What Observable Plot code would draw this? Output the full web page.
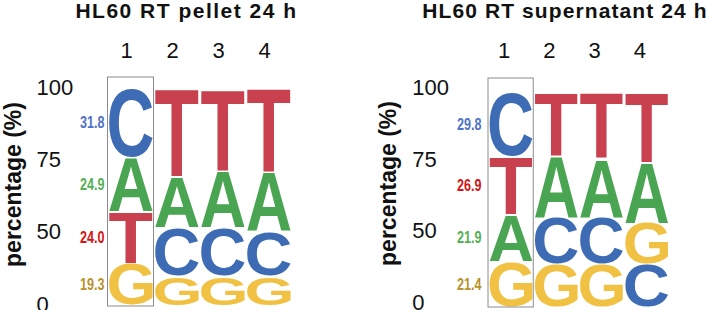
<!DOCTYPE html>
<html>
<head>
<meta charset="utf-8">
<script src="https://cdn.jsdelivr.net/npm/d3@7"></script>
<script src="https://cdn.jsdelivr.net/npm/@observablehq/plot@0.6"></script>
<style>
  html, body { margin: 0; padding: 0; background: #fff; }
  #row { display: flex; width: 708px; height: 310px; overflow: hidden; }
  #row svg { display: block; flex: none; }
</style>
</head>
<body>
<div id="row"></div>
<script>
// ---------- data ----------
const positions = [1, 2, 3, 4];
const tickLabels = ["0", "50", "75", "100"];
const yTitle = "percentage (%)";
const labelledPosition = 1;

const pelletTitle = "HL60 RT pellet 24 h";
const pelletLetters = [["G","T","A","C"], ["G","C","A","T"], ["G","C","A","T"], ["G","C","A","T"]];
const pelletValues  = [[19.3, 24.0, 24.9, 31.8], [13.4, 22.6, 23.5, 40.5], [13.4, 22.6, 26.3, 37.7], [13.4, 20.7, 27.2, 38.7]];

const supTitle = "HL60 RT supernatant 24 h";
const supLetters = [["G","A","T","C"], ["G","C","A","T"], ["G","C","A","T"], ["C","G","A","T"]];
const supValues  = [[21.4, 21.9, 26.9, 29.8], [20.0, 21.9, 28.8, 29.3], [20.0, 21.9, 27.4, 30.7], [20.0, 19.2, 28.4, 32.4]];

// ---------- style ----------
const FONT = "'Liberation Sans', Arial, Helvetica, sans-serif";
const letterColor = {A: "#4aa552", C: "#3e6cb4", G: "#f1c143", T: "#c9404f"};
const labelColor  = {A: "#55b055", C: "#4f72c6", G: "#b8922c", T: "#d81212"};

// glyph ink metrics, used to stretch each letter into its stack box
const ctx = document.createElement("canvas").getContext("2d");
ctx.font = `bold 100px ${FONT}`;
const glyph = {};
for (const L of "ACGT") {
  const m = ctx.measureText(L);
  glyph[L] = {l: m.actualBoundingBoxLeft, r: m.actualBoundingBoxRight, a: m.actualBoundingBoxAscent, d: m.actualBoundingBoxDescent};
}

function fitLetters(rows, half, inset) {
  return (index, scales, values, dimensions, context, next) => {
    const g = next(index, scales, values, dimensions, context);
    g.querySelectorAll("text").forEach((t, k) => {
      const d = rows[index[k]];
      const m = glyph[d.letter];
      const xa = scales.x(d.pos - half), xb = scales.x(d.pos + half);
      const yt = scales.y(d.y2) + inset, yb = scales.y(d.y1) - inset;
      const sx = (xb - xa) / (m.l + m.r), sy = (yb - yt) / (m.a + m.d);
      t.removeAttribute("dy");
      t.setAttribute("x", 0); t.setAttribute("y", 0);
      t.setAttribute("transform", `translate(${xa},${yb}) scale(${sx},${sy}) translate(${m.l},${-m.d})`);
    });
    return g;
  };
}
function squeeze(f) {
  return (index, scales, values, dimensions, context, next) => {
    const g = next(index, scales, values, dimensions, context);
    g.querySelectorAll("text").forEach(t => t.setAttribute("transform", (t.getAttribute("transform") || "") + ` scale(${f},1)`));
    return g;
  };
}
function spaced(s) {
  return (index, scales, values, dimensions, context, next) => {
    const g = next(index, scales, values, dimensions, context);
    g.setAttribute("letter-spacing", s);
    return g;
  };
}

function panel(cfg) {
  const rows = [];
  cfg.letters.forEach((col, c) => {
    let acc = 0;
    col.forEach((L, k) => {
      const v = cfg.values[c][k];
      rows.push({pos: positions[c], letter: L, value: v, y1: acc, y2: acc + v});
      acc += v;
    });
  });
  const labelRows = rows.filter(d => d.pos === labelledPosition);
  const n = tickLabels.length - 1;
  return Plot.plot({
    width: 354, height: 310,
    marginTop: cfg.top, marginBottom: cfg.bottom, marginLeft: cfg.left, marginRight: cfg.right,
    x: {type: "linear", domain: [0.5, 4.5], axis: null, label: null},
    y: {domain: [0, 100], axis: null, label: null},
    style: {fontFamily: FONT, background: "#fff", color: "#111", overflow: "visible"},
    marks: [
      Plot.text(rows, {
        x: "pos", y: d => (d.y1 + d.y2) / 2, text: "letter",
        fill: d => letterColor[d.letter],
        fontSize: 100, fontWeight: "bold", fontFamily: FONT,
        textAnchor: "start", lineAnchor: "bottom",
        render: fitLetters(rows, 0.475, 0.6)
      }),
      Plot.rect([labelledPosition], {
        x1: d => d - 0.5, x2: d => d + 0.5, y1: () => 0, y2: () => 100,
        insetTop: cfg.boxTop, insetBottom: cfg.boxBottom,
        fill: "none", stroke: "#8c8c8c", strokeWidth: 1
      }),
      Plot.text(labelRows, {
        frameAnchor: "left", y: d => (d.y1 + d.y2) / 2, text: d => d.value.toFixed(1),
        fill: d => labelColor[d.letter], fontSize: 17, fontWeight: "bold",
        textAnchor: "end", dx: cfg.labelDx, render: squeeze(0.74)
      }),
      Plot.axisY({
        ticks: tickLabels.map((_, i) => i * 100 / n),
        tickFormat: d => tickLabels[Math.round(d * n / 100)],
        tickSize: 0, tickPadding: 0, textAnchor: "start", label: null,
        fontSize: 22, dx: cfg.tickDx, dy: cfg.tickDy, fill: "#111"
      }),
      Plot.axisX({
        anchor: "top", ticks: positions, tickFormat: d => String(d), label: null,
        tickSize: 0, tickPadding: 0, fontSize: 22, dx: cfg.colDx, dy: cfg.colDy, fill: "#111"
      }),
      Plot.text([yTitle], {
        frameAnchor: "left", text: d => d, rotate: -90, textAnchor: "middle",
        fontSize: 23, fontWeight: "bold", fill: "#111",
        dx: cfg.yTitleDx, dy: cfg.yTitleDy
      }),
      Plot.text([cfg.title], {
        frameAnchor: "top", text: d => d, lineAnchor: "bottom", textAnchor: "middle",
        fontSize: 21, fontWeight: "bold", fill: "#111",
        dx: cfg.titleDx, dy: cfg.titleDy, render: spaced(cfg.titleSpacing)
      })
    ]
  });
}

const row = document.getElementById("row");
row.append(panel({
  title: pelletTitle, letters: pelletLetters, values: pelletValues,
  top: 88, bottom: 5, left: 107.5, right: 62.5,
  boxTop: -11, boxBottom: -1, labelDx: -3.5,
  tickDx: -71.5, tickDy: -1, colDx: -4.5, colDy: -31,
  yTitleDx: -94, yTitleDy: -12.5, titleDx: -13.5, titleDy: -71, titleSpacing: 1.5
}));
row.append(panel({
  title: supTitle, letters: supLetters, values: supValues,
  top: 92, bottom: 3, left: 134, right: 39,
  boxTop: -14, boxBottom: 0, labelDx: -7,
  tickDx: -76.3, tickDy: -4.6, colDx: -7, colDy: -35,
  yTitleDx: -100, yTitleDy: -16.5, titleDx: -14, titleDy: -75, titleSpacing: 1.1
}));
</script>
</body>
</html>
